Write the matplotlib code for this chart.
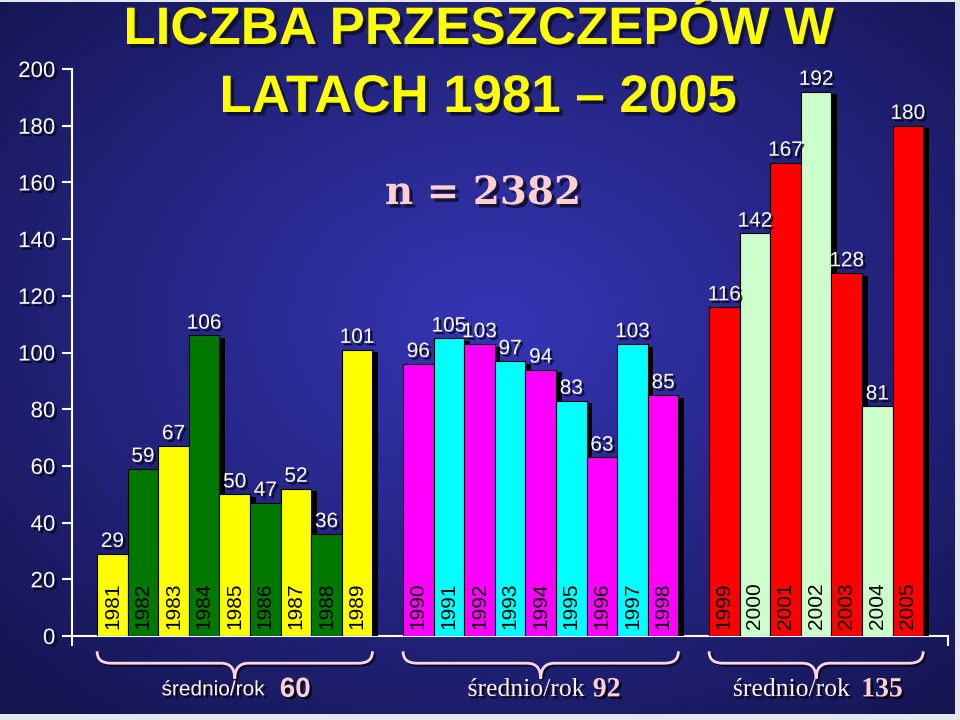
import numpy as np
import matplotlib
matplotlib.use("Agg")
import matplotlib.pyplot as plt
import matplotlib.patheffects as pe
import matplotlib.transforms as mtransforms
from matplotlib.path import Path
from matplotlib.patches import PathPatch

# ---- data ----
years = list(range(1981, 2006))
counts = [29, 59, 67, 106, 50, 47, 52, 36, 101,
          96, 105, 103, 97, 94, 83, 63, 103, 85,
          116, 142, 167, 192, 128, 81, 180]
groups = [0] * 9 + [1] * 9 + [2] * 7
group_avg = [60, 92, 135]
palettes = [["#FFFF00", "#007800"],
            ["#FF00FF", "#00FFFF"],
            ["#FF0000", "#CCFFCC"]]

title1 = "LICZBA PRZESZCZEPÓW W"
title2 = "LATACH 1981 \u2013 2005"
n_text = "n = 2382"

# ---- figure + gradient background ----
fig = plt.figure(figsize=(9.6, 7.2), dpi=100, facecolor="#e6e6ee")
bg = fig.add_axes([0, 6 / 720, 955 / 960, 712 / 720])
bg.axis("off")
yy, xx = np.mgrid[0:1:300j, 0:1:400j]
r = np.sqrt(((xx - 0.52) / 0.72) ** 2 + ((yy - 0.45) / 0.72) ** 2)
r = np.clip(r, 0, 1)
c_in = np.array([0x36, 0x36, 0xb6]) / 255
c_out = np.array([0x15, 0x15, 0x52]) / 255
img = c_in[None, None, :] * (1 - r[..., None]) + c_out[None, None, :] * r[..., None]
bg.imshow(img, aspect="auto", extent=[0, 1, 0, 1])

ax = fig.add_axes([72 / 960, 1 - 636 / 720, (948 - 72) / 960, (636 - 69) / 720])
ax.set_facecolor("none")

shadow_txt = [pe.withSimplePatchShadow(offset=(1.8, -1.8), shadow_rgbFace="black", alpha=0.75)]
shadow_bar = [pe.withSimplePatchShadow(offset=(4, -2), shadow_rgbFace="black", alpha=1.0)]

pos = [i + g for i, g in enumerate(groups)]
for k, (x, v, g) in enumerate(zip(pos, counts, groups)):
    first = groups.index(g)
    col = palettes[g][(k - first) % 2]
    b = ax.bar(x, v, width=1.0, color=col, edgecolor="black", linewidth=0.8, zorder=3)
    b[0].set_path_effects(shadow_bar)
    ax.text(x, v + 1.0, str(v), ha="center", va="bottom", color="white",
            fontsize=15, family="Liberation Sans", zorder=5, path_effects=shadow_txt)
    ax.text(x, 2.5, str(years[k]), rotation=90, ha="center", va="bottom",
            color="black", fontsize=15, family="Liberation Sans", zorder=5)

ax.set_xlim(-1.32, 27.31)
ax.set_ylim(0, 200)
ax.set_yticks(range(0, 201, 20))
ax.set_xticks([-1.32, 27.31])
ax.set_xticklabels([])
for s in ["top", "right"]:
    ax.spines[s].set_visible(False)
for s in ["left", "bottom"]:
    ax.spines[s].set_color("white")
    ax.spines[s].set_linewidth(1.5)
ax.tick_params(axis="both", colors="white", length=7, width=1.5, direction="out")
ax.tick_params(axis="y", labelsize=16, pad=5)
for lab in ax.get_yticklabels():
    lab.set_family("Liberation Sans")
    lab.set_path_effects(shadow_txt)

# ---- braces and averages ----
trans = mtransforms.blended_transform_factory(ax.transData, ax.transAxes)
brace_col = "#FFD6E6"
y_top, y_h, y_tip = -0.027, -0.048, -0.075
split = [(30, 45), (44, 52), (34, 45)]
fonts = ["Liberation Sans", "Liberation Serif", "Liberation Serif"]
lab_sizes = [15, 18.5, 18.5]
for g in range(3):
    xs = [p for p, gg in zip(pos, groups) if gg == g]
    x0, x1 = xs[0] - 0.5, xs[-1] + 0.5
    xc = (x0 + x1) / 2
    rr = 0.45
    verts = [(x0, y_top), (x0, y_h), (x0 + rr, y_h),
             (xc - rr, y_h),
             (xc, y_h), (xc, y_tip),
             (xc, y_h), (xc + rr, y_h),
             (x1 - rr, y_h),
             (x1, y_h), (x1, y_top)]
    codes = [Path.MOVETO, Path.CURVE3, Path.CURVE3,
             Path.LINETO,
             Path.CURVE3, Path.CURVE3,
             Path.CURVE3, Path.CURVE3,
             Path.LINETO,
             Path.CURVE3, Path.CURVE3]
    patch = PathPatch(Path(verts, codes), facecolor="none", edgecolor=brace_col,
                      lw=2, transform=trans, clip_on=False, zorder=4)
    patch.set_path_effects([pe.SimpleLineShadow(offset=(1.5, -1.5), shadow_color="black", alpha=0.6),
                            pe.Normal()])
    ax.add_patch(patch)
    t1 = mtransforms.offset_copy(trans, fig=fig, x=split[g][0], units="dots")
    t2 = mtransforms.offset_copy(trans, fig=fig, x=split[g][1], units="dots")
    ax.text(xc, -0.095, "średnio/rok", transform=t1, ha="right", va="center",
            color="#FFF4F8", fontsize=lab_sizes[g], family=fonts[g],
            clip_on=False, path_effects=shadow_txt)
    ax.text(xc, -0.095, str(group_avg[g]), transform=t2, ha="left", va="center",
            color="#FFD0D8", fontsize=20, fontweight="bold", family=fonts[g],
            clip_on=False, path_effects=shadow_txt)

# ---- titles ----
title_fx = [pe.withSimplePatchShadow(offset=(2.5, -2.5), shadow_rgbFace="#101030", alpha=0.9)]
fig.text(0.498, 1 - 30 / 720, title1, ha="center", va="center", color="#FFFF00",
         fontsize=38, fontweight="bold", family="Liberation Sans", path_effects=title_fx)
fig.text(0.498, 1 - 98 / 720, title2, ha="center", va="center", color="#FFFF00",
         fontsize=38, fontweight="bold", family="Liberation Sans", path_effects=title_fx)
fig.text(483 / 960, 1 - 193 / 720, n_text, ha="center", va="center", color="#FFD0D0",
         fontsize=28, fontweight="bold", family="DejaVu Serif", path_effects=title_fx)

fig.savefig("out.png", dpi=100, facecolor=fig.get_facecolor())
